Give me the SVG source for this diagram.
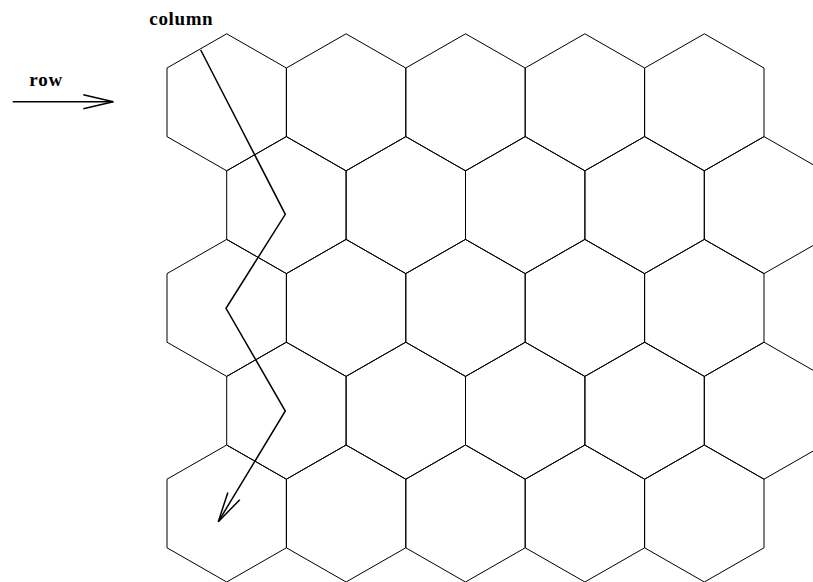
<svg xmlns="http://www.w3.org/2000/svg" xmlns:xlink="http://www.w3.org/1999/xlink" width="813" height="582" viewBox="0 0 813 582">
<style>
.hex{fill:none;stroke:#000;stroke-width:1}
.arr{fill:none;stroke:#000;stroke-width:1.5;stroke-linejoin:miter}
.lbl{font-family:"Liberation Serif","Times New Roman",serif;font-weight:bold;font-size:19px;fill:#000}
</style>
<defs>
<polygon id="hx" points="0,-68.5 59.7,-34.3 59.7,34.3 0,68.5 -59.7,34.3 -59.7,-34.3"/>
<marker id="ah" markerUnits="userSpaceOnUse" orient="auto" refX="0" refY="0" markerWidth="40" markerHeight="20" overflow="visible">
<path d="M-30,-7 L0,0 L-30,7" fill="none" stroke="#000" stroke-width="1.5"/>
</marker>
</defs>
<rect width="813" height="582" fill="#fff"/>
<g id="hexes">
<g id="h1-1"><use xlink:href="#hx" class="hex" transform="translate(226.7,102.3)"/></g>
<g id="h1-2"><use xlink:href="#hx" class="hex" transform="translate(346.1,102.3)"/></g>
<g id="h1-3"><use xlink:href="#hx" class="hex" transform="translate(465.5,102.3)"/></g>
<g id="h1-4"><use xlink:href="#hx" class="hex" transform="translate(584.9,102.3)"/></g>
<g id="h1-5"><use xlink:href="#hx" class="hex" transform="translate(704.3,102.3)"/></g>
<g id="h2-1"><use xlink:href="#hx" class="hex" transform="translate(286.4,205.1)"/></g>
<g id="h2-2"><use xlink:href="#hx" class="hex" transform="translate(405.8,205.1)"/></g>
<g id="h2-3"><use xlink:href="#hx" class="hex" transform="translate(525.2,205.1)"/></g>
<g id="h2-4"><use xlink:href="#hx" class="hex" transform="translate(644.6,205.1)"/></g>
<g id="h2-5"><use xlink:href="#hx" class="hex" transform="translate(764,205.1)"/></g>
<g id="h3-1"><use xlink:href="#hx" class="hex" transform="translate(226.7,307.9)"/></g>
<g id="h3-2"><use xlink:href="#hx" class="hex" transform="translate(346.1,307.9)"/></g>
<g id="h3-3"><use xlink:href="#hx" class="hex" transform="translate(465.5,307.9)"/></g>
<g id="h3-4"><use xlink:href="#hx" class="hex" transform="translate(584.9,307.9)"/></g>
<g id="h3-5"><use xlink:href="#hx" class="hex" transform="translate(704.3,307.9)"/></g>
<g id="h4-1"><use xlink:href="#hx" class="hex" transform="translate(286.4,410.7)"/></g>
<g id="h4-2"><use xlink:href="#hx" class="hex" transform="translate(405.8,410.7)"/></g>
<g id="h4-3"><use xlink:href="#hx" class="hex" transform="translate(525.2,410.7)"/></g>
<g id="h4-4"><use xlink:href="#hx" class="hex" transform="translate(644.6,410.7)"/></g>
<g id="h4-5"><use xlink:href="#hx" class="hex" transform="translate(764,410.7)"/></g>
<g id="h5-1"><use xlink:href="#hx" class="hex" transform="translate(226.7,513.5)"/></g>
<g id="h5-2"><use xlink:href="#hx" class="hex" transform="translate(346.1,513.5)"/></g>
<g id="h5-3"><use xlink:href="#hx" class="hex" transform="translate(465.5,513.5)"/></g>
<g id="h5-4"><use xlink:href="#hx" class="hex" transform="translate(584.9,513.5)"/></g>
<g id="h5-5"><use xlink:href="#hx" class="hex" transform="translate(704.3,513.5)"/></g>
</g>
<g id="labels">
<text class="lbl" x="149.3" y="25.3" textLength="63.4" lengthAdjust="spacing">column</text>
<text class="lbl" x="29.3" y="85.7" textLength="33" lengthAdjust="spacing">row</text>
</g>
<g id="connectors">
<line class="arr" x1="12.7" y1="101.7" x2="113.3" y2="101.7" marker-end="url(#ah)"/>
<polyline class="arr" points="200.7,50 285.3,214.3 226,308.3 285.3,411 218.3,521.7" marker-end="url(#ah)"/>
</g>
</svg>
